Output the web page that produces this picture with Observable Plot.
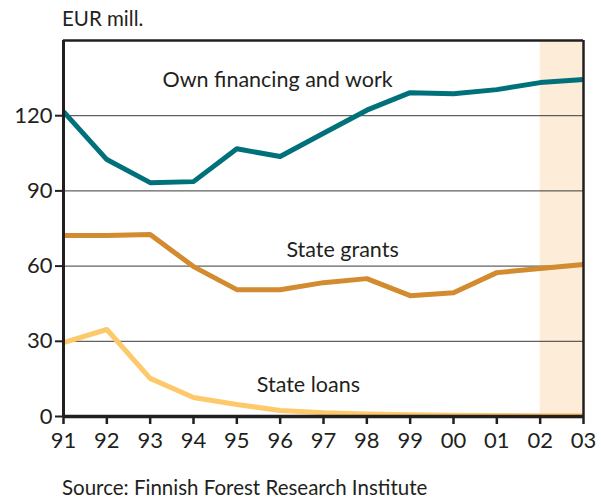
<!DOCTYPE html>
<html>
<head>
<meta charset="utf-8">
<script src="https://cdn.jsdelivr.net/npm/d3@7"></script>
<script src="https://cdn.jsdelivr.net/npm/@observablehq/plot@0.6"></script>
<style>
  body { margin: 0; background: #fff; }
  #wrap { position: relative; width: 601px; height: 498px; font-family: Lato, "Open Sans", sans-serif; color: #231f20; }
  .note { position: absolute; font-size: 20.5px; white-space: nowrap; line-height: 1; }
  svg { position: absolute; left: 0; top: 0; }
</style>
</head>
<body>
<div id="wrap">
  <div class="note" style="left:62px; top:8px;">EUR mill.</div>
  <div class="note" style="left:62px; top:477px;">Source: Finnish Forest Research Institute</div>
</div>
<script>
const years = [1991,1992,1993,1994,1995,1996,1997,1998,1999,2000,2001,2002,2003];
const ownFinancing = [121.6,102.5,93.3,93.7,106.8,103.7,113,122.2,129.2,128.8,130.4,133.2,134.4];
const stateGrants = [72.2,72.2,72.6,59.8,50.6,50.6,53.4,55,48.2,49.4,57.4,59,60.6];
const stateLoans = [29.5,34.7,15.2,7.6,4.8,2.4,1.5,1.0,0.7,0.5,0.4,0.3,0.3];
const yTicks = [0,30,60,90,120];
const gridValues = [30,60,90,120];
const seriesNames = ["Own financing and work","State grants","State loans"];
const seriesColors = ["#00717b","#d28b2f","#fdc96b"];
const labelYears = [1995.94, 1997.44, 1996.65];
const labelValues = [134.2, 66.3, 12.6];
const shadeFrom = 2002, shadeTo = 2003;

const allSeries = [ownFinancing, stateGrants, stateLoans];
const rows = [];
allSeries.forEach((vals, s) => vals.forEach((v, i) => rows.push({year: years[i], value: v, series: seriesNames[s]})));
const labels = seriesNames.map((n, i) => ({name: n, year: labelYears[i], value: labelValues[i]}));

const chart = Plot.plot({
  width: 601,
  height: 498,
  marginLeft: 63,
  marginRight: 18,
  marginTop: 40,
  marginBottom: 82,
  style: {fontFamily: "Lato, 'Open Sans', sans-serif", fontSize: "21px", color: "#231f20", background: "transparent"},
  x: {domain: [1991, 2003], label: null, ticks: years},
  y: {domain: [0, 150], label: null, ticks: yTicks},
  color: {domain: seriesNames, range: seriesColors},
  marks: [
    Plot.rectX([{x1: shadeFrom, x2: shadeTo}], {x1: "x1", x2: "x2", y1: 0, y2: 150, fill: "#fdecd8"}),
    Plot.ruleY(gridValues, {stroke: "#3a3a3a", strokeWidth: 1}),
    Plot.line(rows, {x: "year", y: "value", z: "series", stroke: "series", strokeWidth: 5, strokeLinecap: "butt", strokeLinejoin: "round"}),
    Plot.text(labels, {x: "year", y: "value", text: "name", fill: "#231f20", fontSize: 21.5, textAnchor: "middle"}),
    Plot.ruleY([150], {stroke: "#231f20", strokeWidth: 2.5}),
    Plot.ruleX([2003], {stroke: "#231f20", strokeWidth: 2.5}),
    Plot.ruleX([1991], {stroke: "#231f20", strokeWidth: 3}),
    Plot.ruleY([0], {stroke: "#231f20", strokeWidth: 3.5}),
    Plot.axisX({ticks: years, tickSize: 8, tickPadding: 8, tickFormat: d => String(d % 100).padStart(2, "0"), stroke: "#231f20", strokeWidth: 2.5, fill: "#231f20", fontSize: 22, label: null}),
    Plot.axisY({ticks: yTicks, tickSize: 8, tickPadding: 3, stroke: "#231f20", strokeWidth: 2, fill: "#231f20", fontSize: 22, label: null})
  ]
});
document.getElementById("wrap").prepend(chart);
</script>
</body>
</html>
